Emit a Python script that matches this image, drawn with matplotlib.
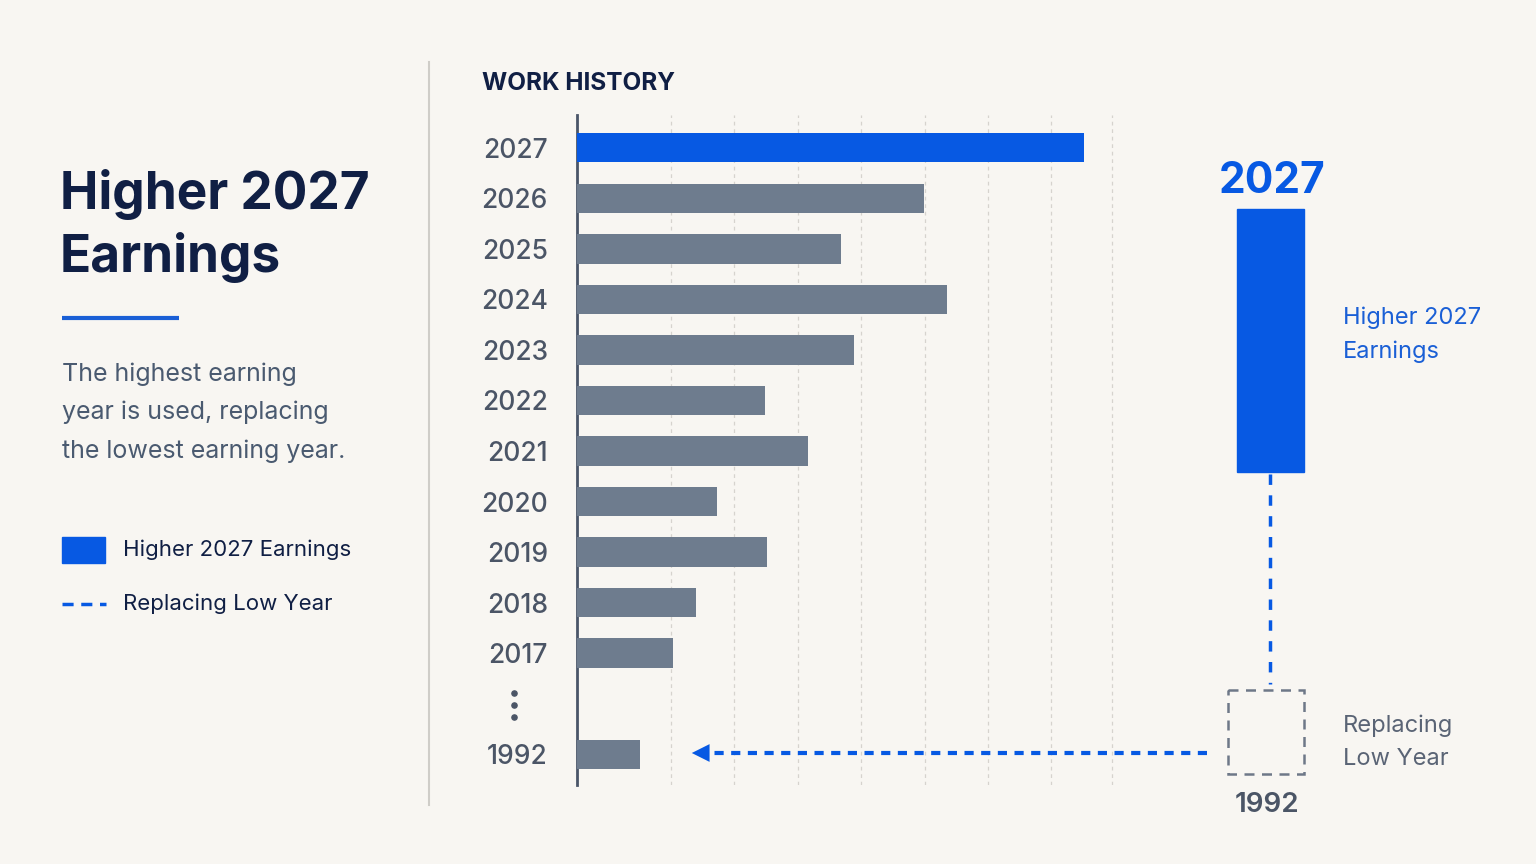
import matplotlib
matplotlib.use("Agg")
import matplotlib.pyplot as plt
from matplotlib.patches import Rectangle

plt.rcParams['font.family'] = ['Inter', 'DejaVu Sans']

# data (earnings, arbitrary units)
years = ["2027", "2026", "2025", "2024", "2023", "2022", "2021", "2020", "2019", "2018", "2017", "1992"]
earnings = [100, 68.4, 52, 73, 54.5, 37, 45.5, 27.5, 37.5, 23.5, 19, 12.5]
rows = [0, 1, 2, 3, 4, 5, 6, 7, 8, 9, 10, 12]
grid_vals = [18.5, 31, 43.5, 56, 68.5, 81, 93.5, 105.5]
highlight = "2027"
replaced = "1992"

BG = "#f8f6f2"
NAVY = "#101f44"
BLUE = "#0759e3"
BAR = "#6e7c8e"
GRAY = "#4b5566"
W, H = 1536, 864

fig = plt.figure(figsize=(W / 100, H / 100), dpi=100, facecolor=BG)

# main bar axes, placed in pixel terms
ax = fig.add_axes([577 / W, 1 - 785 / H, (1130 - 577) / W, (785 - 115) / H])
ax.set_facecolor(BG)
cols = [BLUE if y == highlight else BAR for y in years]
ax.barh(rows, earnings, height=0.58, color=cols, zorder=3)
ax.set_xlim(0, 109)
ax.set_ylim(12.61, -0.65)
ax.set_yticks(rows)
ax.set_yticklabels(years, fontsize=19, color=GRAY, weight='medium')
ax.tick_params(axis='y', length=0, pad=21)
ax.set_xticks(grid_vals)
ax.tick_params(axis='x', length=0, labelbottom=False)
ax.grid(axis='x', color="#d6d3ce", linestyle=(0, (3, 3)), linewidth=0.9, zorder=0)
for s in ['top', 'right', 'bottom']:
  ax.spines[s].set_visible(False)
ax.spines['left'].set_color("#4a5568")
ax.spines['left'].set_linewidth(2)

# overlay in pixel coords for the text and decorations
ov = fig.add_axes([0, 0, 1, 1])
ov.set_xlim(0, W)
ov.set_ylim(H, 0)
ov.axis('off')
ov.patch.set_alpha(0)

# left panel
ov.text(60, 209, "Higher 2027", fontsize=37, weight='bold', color=NAVY, va='baseline')
ov.text(60, 272, "Earnings", fontsize=37, weight='bold', color=NAVY, va='baseline')
ov.plot([62, 179], [318, 318], color="#1a5fd6", lw=3, solid_capstyle='butt')
body = ["The highest earning", "year is used, replacing", "the lowest earning year."]
for i, line in enumerate(body):
  ov.text(62, 381 + i * 38.5, line, fontsize=18, color="#4a5a70", va='baseline')

ov.add_patch(Rectangle((62, 537), 43, 26, color=BLUE))
ov.text(123, 550, "Higher 2027 Earnings", fontsize=16, color=NAVY, va='center')
ov.plot([62, 106], [604, 604], color=BLUE, lw=2.5, linestyle=(0, (3.2, 2.2)))
ov.text(123, 604, "Replacing Low Year", fontsize=16, color=NAVY, va='center')

ov.plot([429, 429], [62, 805], color="#cfcdc8", lw=1.5)

ov.text(482, 90, "WORK HISTORY", fontsize=17.5, weight='bold', color=NAVY, va='baseline')

# the "..." between 2017 and 1992
ov.scatter([514, 514, 514], [693, 705, 717], s=14, color=GRAY)

# right panel
ov.text(1272, 193, highlight, fontsize=30.5, weight='bold', color=BLUE, ha='center', va='baseline')
ov.add_patch(Rectangle((1237, 209), 67, 263, color=BLUE))
ov.text(1343, 324, "Higher 2027", fontsize=17, color="#1a5fd6", va='baseline')
ov.text(1343, 358, "Earnings", fontsize=17, color="#1a5fd6", va='baseline')
ov.plot([1270, 1270], [474, 684], color=BLUE, lw=2.5, linestyle=(0, (3, 3)))
ov.add_patch(Rectangle((1228, 690), 76, 84, fill=False, edgecolor="#6e7888", lw=1.8, linestyle=(0, (4, 3))))
ov.text(1267, 812, replaced, fontsize=20, weight='semibold', color=GRAY, ha='center', va='baseline')
ov.text(1343, 732, "Replacing", fontsize=17, color="#5a6475", va='baseline')
ov.text(1343, 765, "Low Year", fontsize=17, color="#5a6475", va='baseline')

# arrow back to 1992
ov.plot([1207, 704], [753, 753], color=BLUE, lw=3, linestyle=(0, (2.2, 1.8)))
ov.annotate("", xy=(689, 753), xytext=(714, 753),
            arrowprops=dict(arrowstyle="-|>", color=BLUE, lw=0, mutation_scale=32))

fig.savefig("out.png", dpi=100, facecolor=BG)
